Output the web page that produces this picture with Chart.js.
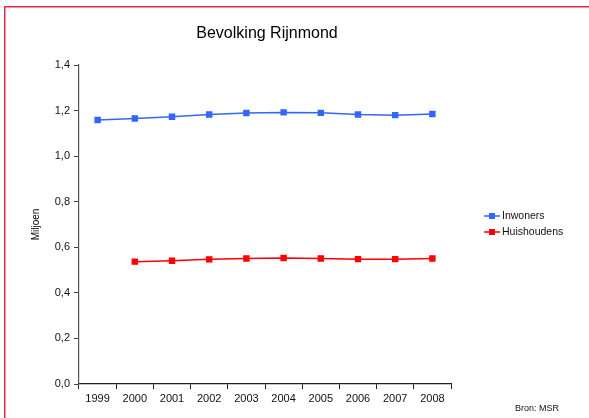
<!DOCTYPE html>
<html>
<head>
<meta charset="utf-8">
<script src="https://cdn.jsdelivr.net/npm/chart.js@4"></script>
<style>
html,body{margin:0;padding:0;background:#fff;}
#wrap{position:relative;width:589px;height:418px;}
</style>
</head>
<body>
<div id="wrap"><canvas id="c" width="589" height="418"></canvas></div>
<script>
const years = ['1999','2000','2001','2002','2003','2004','2005','2006','2007','2008'];
const inwoners = [1.159, 1.165, 1.173, 1.183, 1.189, 1.192, 1.190, 1.183, 1.180, 1.185];
const huishoudens = [null, 0.537, 0.541, 0.547, 0.551, 0.553, 0.551, 0.548, 0.548, 0.551];
const yTicks = [0, 0.2, 0.4, 0.6, 0.8, 1.0, 1.2, 1.4];
const titleText = 'Bevolking Rijnmond';
const yTitle = 'Miljoen';
const sourceText = 'Bron: MSR';
const seriesNames = ['Inwoners', 'Huishoudens'];
const seriesColors = ['#3366ff', '#ff0000'];

const FONT = '"Liberation Sans", Arial, Helvetica, sans-serif';

const decor = {
  id: 'decor',
  beforeDraw(chart) {
    const ctx = chart.ctx;
    ctx.save();
    ctx.fillStyle = '#fff';
    ctx.fillRect(0, 0, chart.width, chart.height);
    ctx.strokeStyle = '#e0294a';
    ctx.lineWidth = 1.5;
    ctx.beginPath();
    ctx.moveTo(4.75, chart.height);
    ctx.lineTo(4.75, 6.75);
    ctx.lineTo(chart.width, 6.75);
    ctx.stroke();
    ctx.restore();
  },
  afterDraw(chart) {
    const ctx = chart.ctx;
    const a = chart.chartArea;
    ctx.save();
    ctx.fillStyle = '#000';
    ctx.textAlign = 'center';
    ctx.textBaseline = 'middle';
    ctx.font = '16px ' + FONT;
    ctx.fillText(titleText, 267, 34);
    // y title
    ctx.save();
    ctx.translate(36, (a.top + a.bottom) / 2);
    ctx.rotate(-Math.PI / 2);
    ctx.font = '10px ' + FONT;
    ctx.fillText(yTitle, 0, 0);
    ctx.restore();
    // legend
    ctx.textAlign = 'left';
    ctx.font = '10.5px ' + FONT;
    const lx = 484, ly = [216, 232];
    seriesNames.forEach((n, i) => {
      ctx.strokeStyle = seriesColors[i];
      ctx.fillStyle = seriesColors[i];
      ctx.lineWidth = 1.5;
      ctx.beginPath();
      ctx.moveTo(lx, ly[i]);
      ctx.lineTo(lx + 16, ly[i]);
      ctx.stroke();
      ctx.fillRect(lx + 5, ly[i] - 3, 6, 6);
      ctx.fillStyle = '#111';
      ctx.fillText(n, lx + 18, ly[i]);
    });
    // source
    ctx.font = '9px ' + FONT;
    ctx.fillStyle = '#111';
    ctx.fillText(sourceText, 515, 409);
    ctx.restore();
  }
};

new Chart(document.getElementById('c'), {
  type: 'line',
  data: {
    labels: years,
    datasets: [
      { label: seriesNames[0], data: inwoners, borderColor: seriesColors[0], backgroundColor: seriesColors[0],
        borderWidth: 1.5, pointStyle: 'rect', pointRadius: 3.5, pointHoverRadius: 3.5, tension: 0 },
      { label: seriesNames[1], data: huishoudens, borderColor: seriesColors[1], backgroundColor: seriesColors[1],
        borderWidth: 1.5, pointStyle: 'rect', pointRadius: 3.5, pointHoverRadius: 3.5, tension: 0, spanGaps: false }
    ]
  },
  options: {
    responsive: false,
    animation: false,
    devicePixelRatio: 1,
    layout: { padding: { top: 65, right: 138, bottom: 0, left: 0 } },
    plugins: { legend: { display: false }, title: { display: false }, tooltip: { enabled: false } },
    scales: {
      x: {
        offset: true,
        grid: { display: true, drawOnChartArea: false, drawTicks: true, tickLength: 5, offset: true, color: '#222', lineWidth: 1 },
        border: { display: true, color: '#222', width: 1.2 },
        ticks: { color: '#111', font: { family: FONT, size: 11 }, padding: 3, maxRotation: 0, autoSkip: false },
        afterFit(s) { s.height = 34; }
      },
      y: {
        min: 0, max: 1.4,
        afterBuildTicks(s) { s.ticks = yTicks.map(v => ({ value: v })); },
        grid: { display: true, drawOnChartArea: false, drawTicks: true, tickLength: 5, color: '#444', lineWidth: 1 },
        border: { display: true, color: '#555', width: 1.2 },
        ticks: { color: '#111', font: { family: FONT, size: 11 }, padding: 4,
          callback: v => v.toFixed(1).replace('.', ',') },
        afterFit(s) { s.width = 79; }
      }
    }
  },
  plugins: [decor]
});
</script>
</body>
</html>
